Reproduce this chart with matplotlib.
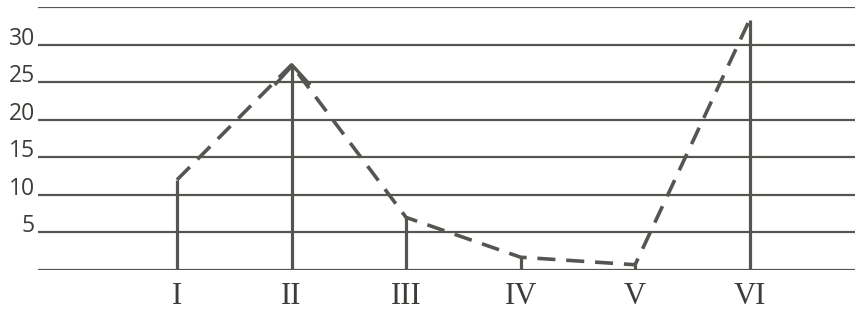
import matplotlib.pyplot as plt

# values
stages = ['I', 'II', 'III', 'IV', 'V', 'VI']
values = [12, 27.3, 7, 1.7, 0.7, 33.3]
gridlevels = [0, 5, 10, 15, 20, 25, 30, 35]
ticklabels = ['5', '10', '15', '20', '25', '30']
ticklevels = [5, 10, 15, 20, 25, 30]

ink = '#555551'
text_ink = '#3c3c38'
serif = ['Liberation Serif', 'DejaVu Serif']
sans = ['Open Sans', 'DejaVu Sans']
chevron = [(-1, -1.1), (0, 0), (1, -1.1)]

fig = plt.figure(figsize=(8.55, 3.13), dpi=100)
ax = fig.add_axes([38 / 855, 43 / 313, 817 / 855, 263 / 313])
ax.set_xlim(-0.214, 6.92)
ax.set_ylim(0, 35)
ax.axis('off')

for level in gridlevels:
    ax.axhline(level, color=ink, lw=1.6, zorder=1)

xs = list(range(1, len(stages) + 1))
ax.vlines(xs, 0, values, color=ink, lw=2.3, zorder=2)
# arrow tip on stage II
ax.plot(xs[1], values[1], marker=chevron, markersize=28, mfc='none',
        mec=ink, mew=2.4, zorder=5)

for x, name in zip(xs, stages):
    ax.text(x, -3.5, name, ha='center', va='center', fontsize=22,
            family=serif, color=text_ink, clip_on=False)

ax.plot(xs, values, color=ink, lw=2.6, ls=(0, (5, 3)), zorder=3)

for level, label in zip(ticklevels, ticklabels):
    ax.text(-0.24, level, label, ha='right', va='baseline', fontsize=16.5,
            family=sans, color=text_ink, clip_on=False)

fig.savefig('out.png', dpi=100)
